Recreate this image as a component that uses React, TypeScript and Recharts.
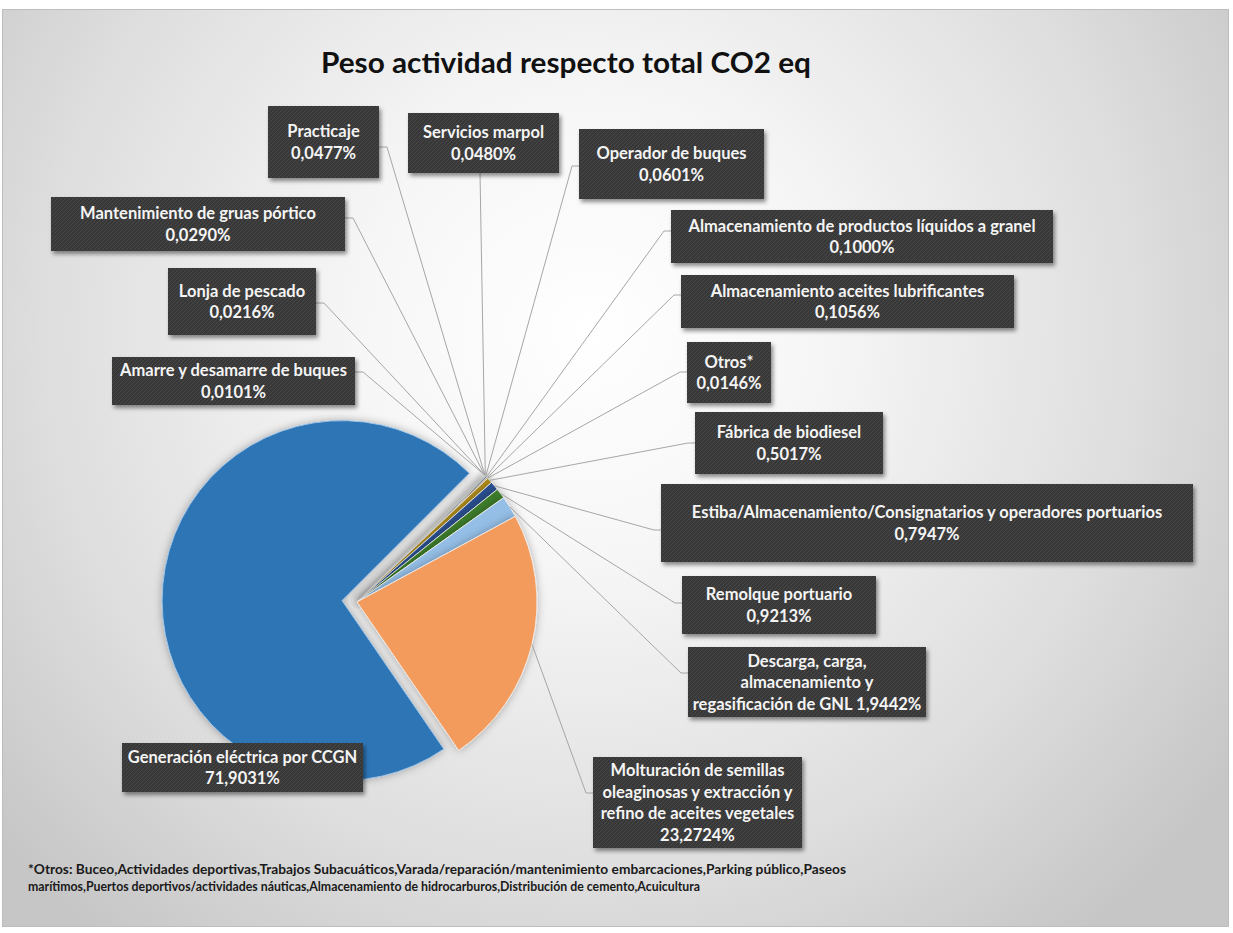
import React from 'react';
import { PieChart, Pie, Cell } from 'recharts';

// categories in the order Excel draws them (clockwise from the first slice angle)
const CATEGORIES = [
  'Amarre y desamarre de buques',
  'Lonja de pescado',
  'Mantenimiento de gruas pórtico',
  'Practicaje',
  'Servicios marpol',
  'Operador de buques',
  'Almacenamiento de productos líquidos a granel',
  'Almacenamiento aceites lubrificantes',
  'Otros*',
  'Fábrica de biodiesel',
  'Estiba/Almacenamiento/Consignatarios  y operadores portuarios',
  'Remolque portuario',
  'Descarga, carga,\nalmacenamiento y\nregasificación de GNL',
  'Molturación  de semillas\noleaginosas y extracción y\nrefino de aceites vegetales',
  'Generación eléctrica por CCGN',
];

const VALUES = [
  0.0101, 0.0216, 0.029, 0.0477, 0.048, 0.0601, 0.1, 0.1056, 0.0146, 0.5017, 0.7947, 0.9213, 1.9442,
  23.2724, 71.9031,
];

const COLORS = [
  '#5B9BD5', '#ED7D31', '#A5A5A5', '#FFC000', '#4472C4', '#70AD47', '#255E91', '#9E480E', '#636363',
  '#B08D1E', '#2A4F8F', '#3E7C2B', '#94BEE6', '#F39B5B', '#2E75B6',
];

const FOOTNOTE = [
  '*Otros: Buceo,Actividades deportivas,Trabajos  Subacuáticos,Varada/reparación/mantenimiento embarcaciones,Parking público,Paseos',
  'marítimos,Puertos deportivos/actividades náuticas,Almacenamiento de hidrocarburos,Distribución de cemento,Acuicultura',
];

const TITLE = 'Peso actividad respecto total CO2 eq';

// layout of the (manually placed) data label boxes, same order as CATEGORIES
type Box = { x: number; y: number; w: number; h: number; side: 'l' | 'r' | 'b' | 'n'; a: number; inline?: boolean };
const LABEL_BOXES: Box[] = [
  { x: 112, y: 357, w: 243, h: 48, side: 'r', a: 372 },
  { x: 168, y: 268, w: 148, h: 67, side: 'r', a: 303 },
  { x: 51, y: 197, w: 294, h: 54, side: 'r', a: 218 },
  { x: 268, y: 106, w: 111, h: 72, side: 'r', a: 147 },
  { x: 408, y: 113, w: 151, h: 60, side: 'b', a: 480 },
  { x: 579, y: 129, w: 185, h: 70, side: 'l', a: 166 },
  { x: 671, y: 210, w: 382, h: 53, side: 'l', a: 231 },
  { x: 681, y: 275, w: 333, h: 53, side: 'l', a: 295 },
  { x: 687, y: 342, w: 84, h: 61, side: 'l', a: 372 },
  { x: 695, y: 412, w: 188, h: 62, side: 'l', a: 443 },
  { x: 661, y: 484, w: 532, h: 78, side: 'l', a: 530 },
  { x: 682, y: 576, w: 194, h: 58, side: 'l', a: 603 },
  { x: 688, y: 647, w: 238, h: 70, side: 'l', a: 673, inline: true },
  { x: 593, y: 757, w: 209, h: 91, side: 'l', a: 793 },
  { x: 122, y: 743, w: 241, h: 49, side: 'n', a: 0 },
];

const W = 1233;
const H = 933;
const CX = 357;
const CY = 602;
const R = 180;
const START = 45;
const EXPLODE = 15;
const RAD = Math.PI / 180;

const data = CATEGORIES.map((name, i) => ({ name, value: VALUES[i] }));
const total = VALUES.reduce((a, b) => a + b, 0);
const last = VALUES.length - 1;
// exploded slice centre, pushed out along its own mid angle
const lastMid = START - (360 * (total - VALUES[last] / 2)) / total;
const BX = CX + EXPLODE * Math.cos(lastMid * RAD);
const BY = CY - EXPLODE * Math.sin(lastMid * RAD);

const fmt = (v: number) => v.toFixed(4).replace('.', ',') + '%';
const FONT = 'Lato, "Open Sans", sans-serif';

// eslint-disable-next-line @typescript-eslint/no-explicit-any
const renderLabel = (props: any) => {
  const { cx, cy, midAngle, outerRadius, index } = props;
  const box = LABEL_BOXES[index];
  if (!box) return null;
  const px = cx + outerRadius * Math.cos(-midAngle * RAD);
  const py = cy + outerRadius * Math.sin(-midAngle * RAD);

  let path = '';
  if (box.side === 'r') {
    const ax = box.x + box.w;
    path = `M${px},${py}L${ax + 8},${box.a}L${ax},${box.a}`;
  } else if (box.side === 'l') {
    path = `M${px},${py}L${box.x - 7},${box.a}L${box.x},${box.a}`;
  } else if (box.side === 'b') {
    path = `M${px},${py}L${box.a},${box.y + box.h}`;
  }

  const lines = CATEGORIES[index].split('\n');
  if (box.inline) lines[lines.length - 1] += ' ' + fmt(VALUES[index]);
  else lines.push(fmt(VALUES[index]));
  const lh = 21.5;
  const y0 = box.y + box.h / 2 - ((lines.length - 1) * lh) / 2 + 6;

  return (
    <g key={`lbl-${index}`}>
      {path && <path d={path} stroke="#a6a6a6" strokeWidth={1} fill="none" />}
      <rect x={box.x} y={box.y} width={box.w} height={box.h} fill="url(#hatch)" filter="url(#boxShadow)" />
      {lines.map((t, i) => (
        <text
          key={i}
          x={box.x + box.w / 2}
          y={y0 + i * lh}
          textAnchor="middle"
          fill="#f4f4f4"
          fontFamily={FONT}
          fontWeight={700}
          fontSize={16.5}
        >
          {t}
        </text>
      ))}
    </g>
  );
};

const App: React.FC = () => {
  return (
    <div style={{ position: 'absolute', left: 0, top: 0, width: W, height: H, background: '#ffffff' }}>
      <svg width={W} height={H} style={{ position: 'absolute', left: 0, top: 0 }}>
        <defs>
          <radialGradient id="bg" gradientUnits="userSpaceOnUse" cx={590} cy={330} r={780}>
            <stop offset="0" stopColor="#ffffff" />
            <stop offset="0.3" stopColor="#f6f6f6" />
            <stop offset="0.7" stopColor="#dedede" />
            <stop offset="1" stopColor="#c6c6c6" />
          </radialGradient>
          <pattern id="hatch" width="4" height="4" patternUnits="userSpaceOnUse">
            <rect width="4" height="4" fill="#393939" />
            <path d="M0,4L4,0M-1,1L1,-1M3,5L5,3" stroke="#464646" strokeWidth="1" />
          </pattern>
          <filter id="boxShadow" x="-10%" y="-20%" width="125%" height="150%">
            <feDropShadow dx="2" dy="3" stdDeviation="2" floodColor="#000" floodOpacity="0.45" />
          </filter>
          <filter id="pieShadow" x="-20%" y="-20%" width="140%" height="140%">
            <feDropShadow dx="0" dy="0" stdDeviation="4" floodColor="#000" floodOpacity="0.3" />
          </filter>
        </defs>
        <rect x={2.5} y={9.5} width={1226} height={917} fill="url(#bg)" stroke="#bdbdbd" strokeWidth={1} />
        <text
          x={566}
          y={73}
          textAnchor="middle"
          fontFamily={FONT}
          fontWeight={700}
          fontSize={29}
          fill="#111111"
          textLength={490}
          lengthAdjust="spacingAndGlyphs"
        >
          {TITLE}
        </text>
        <text x={28} y={874} fontFamily={FONT} fontWeight={700} fontSize={12.5} fill="#1a1a1a" textLength={818} lengthAdjust="spacingAndGlyphs">
          {FOOTNOTE[0]}
        </text>
        <text x={28} y={891} fontFamily={FONT} fontWeight={700} fontSize={12.5} fill="#1a1a1a" textLength={672} lengthAdjust="spacingAndGlyphs">
          {FOOTNOTE[1]}
        </text>
      </svg>
      <div style={{ position: 'absolute', left: 0, top: 0 }}>
        <PieChart width={W} height={H} margin={{ top: 0, right: 0, bottom: 0, left: 0 }}>
          {/* exploded slice */}
          <Pie
            data={data}
            dataKey="value"
            nameKey="name"
            cx={BX}
            cy={BY}
            outerRadius={R}
            startAngle={START}
            endAngle={START - 360}
            isAnimationActive={false}
            labelLine={false}
            stroke="none"
          >
            {data.map((d, i) => (
              <Cell
                key={d.name}
                fill={i === last ? COLORS[i] : 'none'}
                stroke={i === last ? '#9dc3e6' : 'none'}
                strokeWidth={1}
                filter={i === last ? 'url(#pieShadow)' : undefined}
              />
            ))}
          </Pie>
          <Pie
            data={data}
            dataKey="value"
            nameKey="name"
            cx={CX}
            cy={CY}
            outerRadius={R}
            startAngle={START}
            endAngle={START - 360}
            isAnimationActive={false}
            labelLine={false}
            label={renderLabel}
          >
            {data.map((d, i) => (
              <Cell
                key={d.name}
                fill={i === last ? 'none' : COLORS[i]}
                stroke={i === last ? 'none' : '#f2f2f2'}
                strokeWidth={0.8}
                filter={i === last ? undefined : 'url(#pieShadow)'}
              />
            ))}
          </Pie>
        </PieChart>
      </div>
    </div>
  );
};

export default App;
